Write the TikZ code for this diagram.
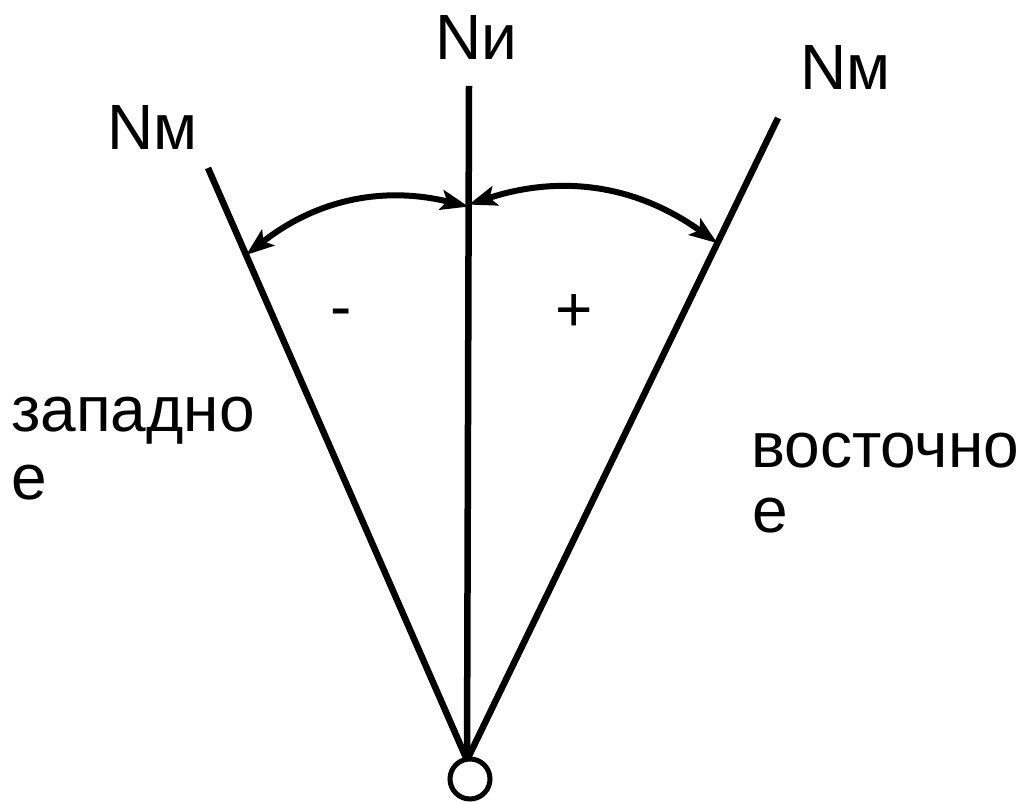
\documentclass[tikz,border=0pt]{standalone}
\usepackage{fontspec}
\setmainfont{Liberation Sans}
\usetikzlibrary{arrows.meta,calc}
\begin{document}
\begin{tikzpicture}[x=1pt,y=1pt,
  ray/.style={line width=6.5pt},
  arcarrow/.style={line width=6pt,{Stealth[length=28pt,width=20pt,inset=6pt]}-{Stealth[length=28pt,width=20pt,inset=6pt]}},
  lbl/.style={inner sep=0pt,font=\fontsize{64}{68}\selectfont}]
\useasboundingbox (0,0) rectangle (1026,801);
\fill[white] (0,0) rectangle (1026,801);
% key points
\coordinate (O) at (467,41);
\coordinate (V) at (469,715);
\coordinate (L) at (208,633);
\coordinate (R) at (778,683);
% rays
\draw[ray] (O) -- (V);
\draw[ray] (O) -- (L);
\draw[ray] (O) -- (R);
\node[draw,line width=5pt,circle,minimum size=40pt,inner sep=0pt] (c) at (470,22) {};
% arc end points on the rays
\coordinate (A1) at ($(O)!0.821!(V)$);
\coordinate (B1) at ($(O)!0.853!(L)$);
\coordinate (A2) at ($(O)!0.824!(V)$);
\coordinate (B2) at ($(O)!0.805!(R)$);
\draw[arcarrow] (A1) to[bend right=26] (B1);
\draw[arcarrow] (A2) to[bend left=27] (B2);
% labels
\node[lbl,anchor=base west] (ni) at (435,741) {Nи};
\node[lbl,anchor=base west] (nml) at (107,651) {Nм};
\node[lbl,anchor=base west] (nmr) at (800,711) {Nм};
\node[lbl,anchor=base] (minus) at (341,472) {-};
\node[lbl,anchor=base] (plus) at (574,469) {+};
\node[lbl,anchor=base west] (w1) at (11,369) {западно};
\node[lbl,anchor=base west] (w2) at (11,301) {е};
\node[lbl,anchor=base west] (e1) at (751,333) {восточно};
\node[lbl,anchor=base west] (e2) at (752,268) {е};
\end{tikzpicture}
\end{document}
